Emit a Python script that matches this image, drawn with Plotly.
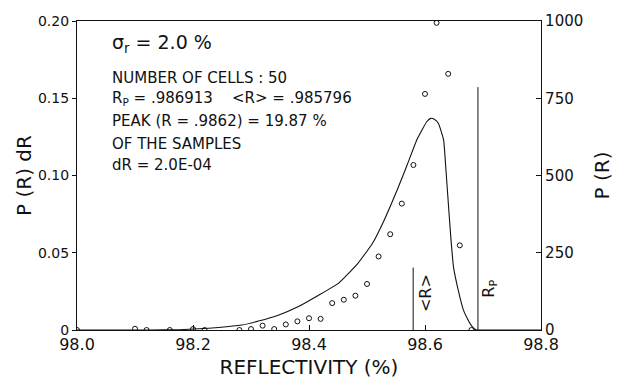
import plotly.graph_objects as go

# ---- data ----
circle_R = [98.00, 98.10, 98.12, 98.16, 98.20, 98.22, 98.28, 98.30, 98.32, 98.34,
            98.36, 98.38, 98.40, 98.42, 98.44, 98.46, 98.48, 98.50, 98.52, 98.54,
            98.56, 98.58, 98.60, 98.62, 98.64, 98.66, 98.68]
circle_P = [0, 4, 0, 0, 3, 0, 0, 3, 14, 3,
            18, 28, 38, 36, 87, 98, 111, 149, 238, 310,
            409, 534, 764, 994, 829, 274, 0]

curve_R = [98.00, 98.125, 98.176, 98.21, 98.244, 98.284, 98.313, 98.347, 98.381, 98.415,
           98.45, 98.484, 98.509, 98.529, 98.552, 98.569, 98.586, 98.603, 98.610, 98.616,
           98.623, 98.632, 98.636, 98.640, 98.644, 98.649, 98.658, 98.666, 98.675, 98.680,
           98.685, 98.689, 98.70, 98.72, 98.80]
curve_P = [0, 0, 1, 4, 8, 16, 29, 48, 75, 111,
           150, 215, 279, 353, 453, 533, 616, 674, 685, 682,
           669, 616, 521, 416, 312, 206, 123, 66, 30, 14,
           4, 0, 0, 0, 0]

mean_R = 98.5796
mean_line_top = 202
Rp = 98.6913
Rp_line_top = 786

x_ticks = [98.0, 98.2, 98.4, 98.6, 98.8]
x_ticktext = ["98.0", "98.2", "98.4", "98.6", "98.8"]
y_ticks = [0, 0.05, 0.10, 0.15, 0.20]
y_ticktext = ["0", "0.05", "0.10", "0.15", "0.20"]
y2_ticks = [0, 250, 500, 750, 1000]
y2_ticktext = ["0", "250", "500", "750", "1000"]

info_lines = [
    "NUMBER OF CELLS : 50",
    "R<sub>P</sub> = .986913    &lt;R&gt; = .985796",
    "PEAK (R = .9862) = 19.87 %",
    "OF THE SAMPLES",
    "dR = 2.0E-04",
]

FONT = "DejaVu Sans"
BLACK = "#111111"

fig = go.Figure()
fig.add_trace(go.Scatter(x=curve_R, y=curve_P, yaxis="y2", mode="lines",
                         line=dict(color=BLACK, width=1.1, shape="spline", smoothing=0.4),
                         showlegend=False, hoverinfo="skip"))
fig.add_trace(go.Scatter(x=circle_R, y=circle_P, yaxis="y2", mode="markers",
                         marker=dict(symbol="circle-open", size=5, color=BLACK,
                                     line=dict(width=1, color=BLACK)),
                         showlegend=False))
fig.add_trace(go.Scatter(x=[mean_R, mean_R], y=[0, mean_line_top], yaxis="y2", mode="lines",
                         line=dict(color=BLACK, width=1), showlegend=False))
fig.add_trace(go.Scatter(x=[Rp, Rp], y=[0, Rp_line_top], yaxis="y2", mode="lines",
                         line=dict(color=BLACK, width=1), showlegend=False))

# invisible point on the left axis so that it is drawn
fig.add_trace(go.Scatter(x=[98.0], y=[0], mode="markers", marker=dict(size=0.1, opacity=0),
                         showlegend=False, hoverinfo="skip"))

annos = []
annos.append(dict(x=0.0705, y=0.927, xref="paper", yref="paper", xanchor="left", yanchor="middle",
                  text="σ<sub>r</sub> = 2.0 %", showarrow=False,
                  font=dict(family=FONT, size=19, color=BLACK)))
line_y = [0.817, 0.748, 0.675, 0.603, 0.533]
for t, yy in zip(info_lines, line_y):
    annos.append(dict(x=0.0705, y=yy, xref="paper", yref="paper", xanchor="left",
                      yanchor="middle", text=t, showarrow=False,
                      font=dict(family=FONT, size=15, color=BLACK)))
annos.append(dict(x=98.602, y=120, xref="x", yref="y2", text="&lt;R&gt;", textangle=-90,
                  showarrow=False, font=dict(family=FONT, size=16, color=BLACK)))
annos.append(dict(x=98.711, y=135, xref="x", yref="y2", text="R<sub>P</sub>", textangle=-90,
                  showarrow=False, font=dict(family=FONT, size=16, color=BLACK)))

fig.update_layout(
    width=621, height=386,
    margin=dict(l=77, r=76, t=15, b=54),
    paper_bgcolor="white", plot_bgcolor="white",
    font=dict(family=FONT, color=BLACK),
    annotations=annos,
    xaxis=dict(range=[98.0, 98.8], tickvals=x_ticks, ticktext=x_ticktext,
               ticks="inside", ticklen=5, tickcolor=BLACK,
               showline=True, linecolor=BLACK, linewidth=1.2, mirror=True,
               showgrid=False, zeroline=False,
               tickfont=dict(size=16, family=FONT),
               title=dict(text="REFLECTIVITY (%)", font=dict(size=20, family=FONT), standoff=6)),
    yaxis=dict(range=[0, 0.2], tickvals=y_ticks, ticktext=y_ticktext,
               ticks="outside", ticklen=4, tickcolor=BLACK,
               showline=True, linecolor=BLACK, linewidth=1.2,
               showgrid=False, zeroline=False,
               tickfont=dict(size=14, family=FONT),
               title=dict(text="P (R) dR", font=dict(size=20, family=FONT), standoff=0)),
    yaxis2=dict(range=[0, 1000], tickvals=y2_ticks, ticktext=y2_ticktext,
                overlaying="y", side="right",
                ticks="inside", ticklen=5, tickcolor=BLACK,
                showline=True, linecolor=BLACK, linewidth=1.2,
                showgrid=False, zeroline=False,
                tickfont=dict(size=15, family=FONT),
                title=dict(text="P (R)", font=dict(size=20, family=FONT), standoff=12)),
)

fig.write_html("out.html")
